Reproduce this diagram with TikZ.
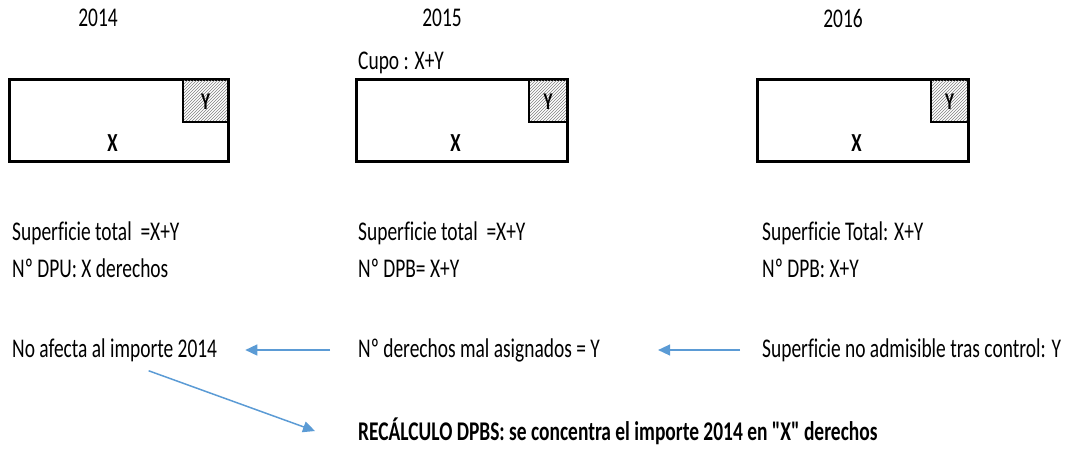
\documentclass[tikz,border=0pt]{standalone}
\usepackage{fontspec}
\setmainfont{Carlito}[FakeStretch=0.72, Ligatures={TeXOff,CommonOff}]
\usetikzlibrary{arrows.meta,patterns}
\definecolor{arrowblue}{RGB}{91,155,213}

\begin{document}
\begin{tikzpicture}[x=1pt,y=-1pt,
    every node/.style={font=\fontsize{27}{30}\selectfont, inner sep=0pt},
    txt/.style={anchor=west},
    flecha/.style={draw=arrowblue, line width=1.5pt, -{Triangle[length=12pt,width=11pt]}}]
  \useasboundingbox (0,0) rectangle (1077,448);

  % years
  \node (y14) at (98,18) {2014};
  \node (y15) at (442,18) {2015};
  \node (y16) at (843,18) {2016};
  \node[txt] (cupo) at (358,63) {Cupo : X+Y};

  % parcels
  \foreach \l/\h/\r in {9/183/228, 356/529/567, 757/931/968} {
    \draw[line width=3pt] (\l,79) rectangle (\r,161);
    \draw[line width=2pt, pattern=north east lines, pattern color=gray] (\h,79) rectangle (\r,122);
    \node[font=\fontsize{26}{28}\selectfont\bfseries] at ({(\l+\r)/2-6},143) {X};
    \node[font=\fontsize{24}{26}\selectfont\bfseries] at ({(\h+\r)/2},102) {Y};
  }

  \node[txt] (sup14) at (12,233) {Superficie total~ =X+Y};
  \node[txt] (dpu14) at (12,268) {Nº DPU: X derechos};
  \node[txt] (noafecta) at (12,350) {No afecta al importe 2014};

  \node[txt] (sup15) at (358,233) {Superficie total~ =X+Y};
  \node[txt] (dpb15) at (358,268) {Nº DPB= X+Y};
  \node[txt] (mal) at (358,350) {Nº derechos mal asignados = Y};

  \node[txt] (sup16) at (762,233) {Superficie Total: X+Y};
  \node[txt] (dpb16) at (762,268) {Nº DPB: X+Y};
  \node[txt] (noadm) at (762,350) {Superficie no admisible tras control: Y};

  \node[txt, font=\fontsize{27}{30}\selectfont\bfseries] (recalc) at (358,431) {RECÁLCULO DPBS: se concentra el importe 2014 en "X" derechos};

  \draw[flecha, shorten <=28pt, shorten >=28pt] (mal.west) -- (noafecta.east);
  \draw[flecha, shorten <=22pt, shorten >=58pt] (noadm.west) -- (mal.east);
  \draw[flecha] ([xshift=34pt,yshift=-9pt]noafecta.south) -- ([xshift=-43pt]recalc.west);
\end{tikzpicture}
\end{document}
